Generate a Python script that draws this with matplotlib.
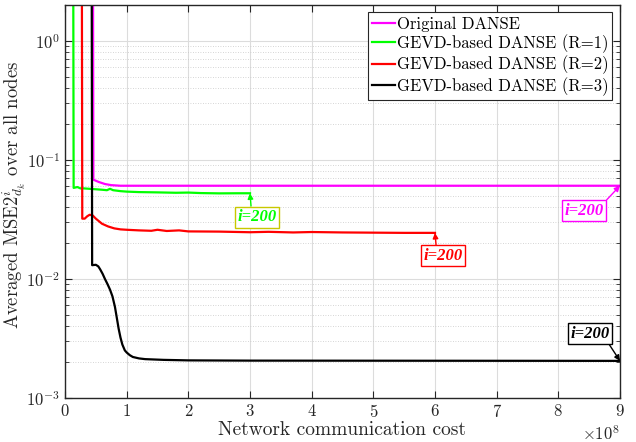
import matplotlib
matplotlib.use("Agg")
import matplotlib.pyplot as plt
from matplotlib.ticker import ScalarFormatter, LogLocator, NullFormatter
import numpy as np

plt.rcParams["font.family"] = ["cmr10", "DejaVu Serif"]
plt.rcParams["mathtext.fontset"] = "cm"
plt.rcParams["axes.formatter.use_mathtext"] = True

# ===== data (cost in units of 1e8) =====
cost_orig = [0.45, 0.46, 0.55, 0.65, 0.75, 0.90, 9.00]
mse_orig = [50, 0.068, 0.065, 0.0625, 0.0612, 0.0605, 0.0605]

cost_r1 = [0.13, 0.14, 0.17, 0.20, 0.25, 0.30, 0.40, 0.50, 0.60, 0.68, 0.73, 0.78,
           0.90, 1.00, 1.20, 1.50, 1.80, 2.00, 2.20, 2.50, 2.80, 3.00]
mse_r1 = [50, 0.058, 0.0585, 0.059, 0.0575, 0.0575, 0.057, 0.0565, 0.056, 0.0555,
          0.057, 0.0555, 0.0545, 0.054, 0.0535, 0.0532, 0.0528, 0.053, 0.0525,
          0.0522, 0.0523, 0.0523]

cost_r2 = [0.27, 0.28, 0.32, 0.36, 0.40, 0.45, 0.50, 0.60, 0.70, 0.80, 0.90, 1.00,
           1.20, 1.40, 1.50, 1.65, 1.85, 2.00, 2.50, 3.00, 3.30, 3.70, 4.00, 4.50,
           5.00, 5.50, 6.00]
mse_r2 = [50, 0.032, 0.032, 0.0335, 0.0345, 0.034, 0.032, 0.029, 0.0275, 0.0265,
          0.026, 0.0258, 0.0255, 0.0253, 0.0258, 0.0252, 0.0255, 0.025, 0.0249,
          0.0246, 0.0248, 0.0245, 0.0247, 0.0245, 0.0244, 0.0243, 0.0243]

cost_r3 = [0.43, 0.44, 0.50, 0.54, 0.57, 0.61, 0.65, 0.69, 0.73, 0.77, 0.81, 0.84,
           0.87, 0.90, 0.93, 0.97, 1.00, 1.05, 1.10, 1.20, 1.30, 1.60, 2.00, 3.00,
           9.00]
mse_r3 = [50, 0.013, 0.0131, 0.0127, 0.0120, 0.0110, 0.0099, 0.0090, 0.0081,
          0.0071, 0.0058, 0.0047, 0.0038, 0.0032, 0.0028, 0.0025, 0.0024, 0.00228,
          0.00220, 0.00214, 0.00211, 0.00208, 0.00206, 0.00205, 0.00204]

labels = ["Original DANSE", "GEVD-based DANSE (R=1)",
          "GEVD-based DANSE (R=2)", "GEVD-based DANSE (R=3)"]
colors = ["#ff00ff", "#00ff00", "#ff0000", "#000000"]

# ===== figure =====
fig = plt.figure(figsize=(6.36, 4.42), dpi=100)
ax = fig.add_axes([0.1022, 0.1002, 0.8726, 0.8885])

series = [(cost_orig, mse_orig), (cost_r1, mse_r1), (cost_r2, mse_r2), (cost_r3, mse_r3)]
for (c, m), lab, col in zip(series, labels, colors):
    ax.plot(np.array(c) * 1e8, m, color=col, lw=1.6, label=lab)

ax.set_yscale("log")
ax.set_xlim(0, 9e8)
ax.set_ylim(1e-3, 2)
ax.set_xticks(np.arange(0, 10) * 1e8)

fmt = ScalarFormatter(useMathText=True)
fmt.set_powerlimits((0, 0))
ax.xaxis.set_major_formatter(fmt)
ax.yaxis.set_major_locator(LogLocator(base=10, numticks=10))
ax.yaxis.set_minor_locator(LogLocator(base=10, subs=np.arange(2, 10), numticks=20))
ax.yaxis.set_minor_formatter(NullFormatter())

ax.grid(True, which="major", color="#dcdcdc", lw=0.8, ls="-")
ax.grid(True, which="minor", axis="y", color="#c8c8c8", lw=0.6, ls=(0, (1, 2)))
ax.set_axisbelow(True)

ax.tick_params(which="both", direction="in", top=True, right=True,
               labelsize=12, colors="#262626")
ax.tick_params(which="major", length=5, width=0.8)
ax.tick_params(which="minor", length=3, width=0.6)
for s in ax.spines.values():
    s.set_color("#262626")
    s.set_linewidth(1.0)
ax.xaxis.get_offset_text().set_fontsize(12)

ax.set_xlabel("Network communication cost", fontsize=14, labelpad=1, color="#262626")
ax.set_ylabel(r"Averaged MSE2$^{i}_{d_k}$ over all nodes", fontsize=13.5,
              color="#262626")
ax.yaxis.set_label_coords(-0.067, 0.516)

leg = ax.legend(loc="upper right", fontsize=12, handlelength=1.4, handletextpad=0.1,
                borderaxespad=0.45, borderpad=0.25, labelspacing=0.15,
                fancybox=False, framealpha=1)
leg.get_frame().set_edgecolor("#262626")
leg.get_frame().set_linewidth(0.8)

# ===== iteration markers =====
ann = [
    # text, target (cost, mse), text pos, text colour, box colour, arrow start
    ("i=200", (3.0, 0.0523), (3.11, 0.033), "#00ff00", "#c8c800", (0.36, 1.0)),
    ("i=200", (6.0, 0.0243), (6.13, 0.0156), "#ff0000", "#ff0000", (0.33, 1.0)),
    ("i=200", (9.0, 0.0605), (8.42, 0.0372), "#ff00ff", "#ff00ff", (1.0, 1.0)),
    ("i=200", (9.0, 0.00204), (8.51, 0.00345), "#000000", "#000000", (0.95, 0.0)),
]
for txt, xy, xyt, tcol, bcol, rp in ann:
    ax.annotate(txt, xy=(xy[0] * 1e8, xy[1]), xytext=(xyt[0] * 1e8, xyt[1]),
                ha="center", va="center", color=tcol, fontsize=12,
                fontweight="bold", fontstyle="italic", family="Liberation Serif",
                bbox=dict(boxstyle="square,pad=0.15", fc="white", ec=bcol, lw=1.0),
                arrowprops=dict(arrowstyle="-|>", color=tcol, lw=1.0,
                                shrinkA=0, shrinkB=0, relpos=rp,
                                mutation_scale=8))

fig.savefig("out.png", dpi=100)
